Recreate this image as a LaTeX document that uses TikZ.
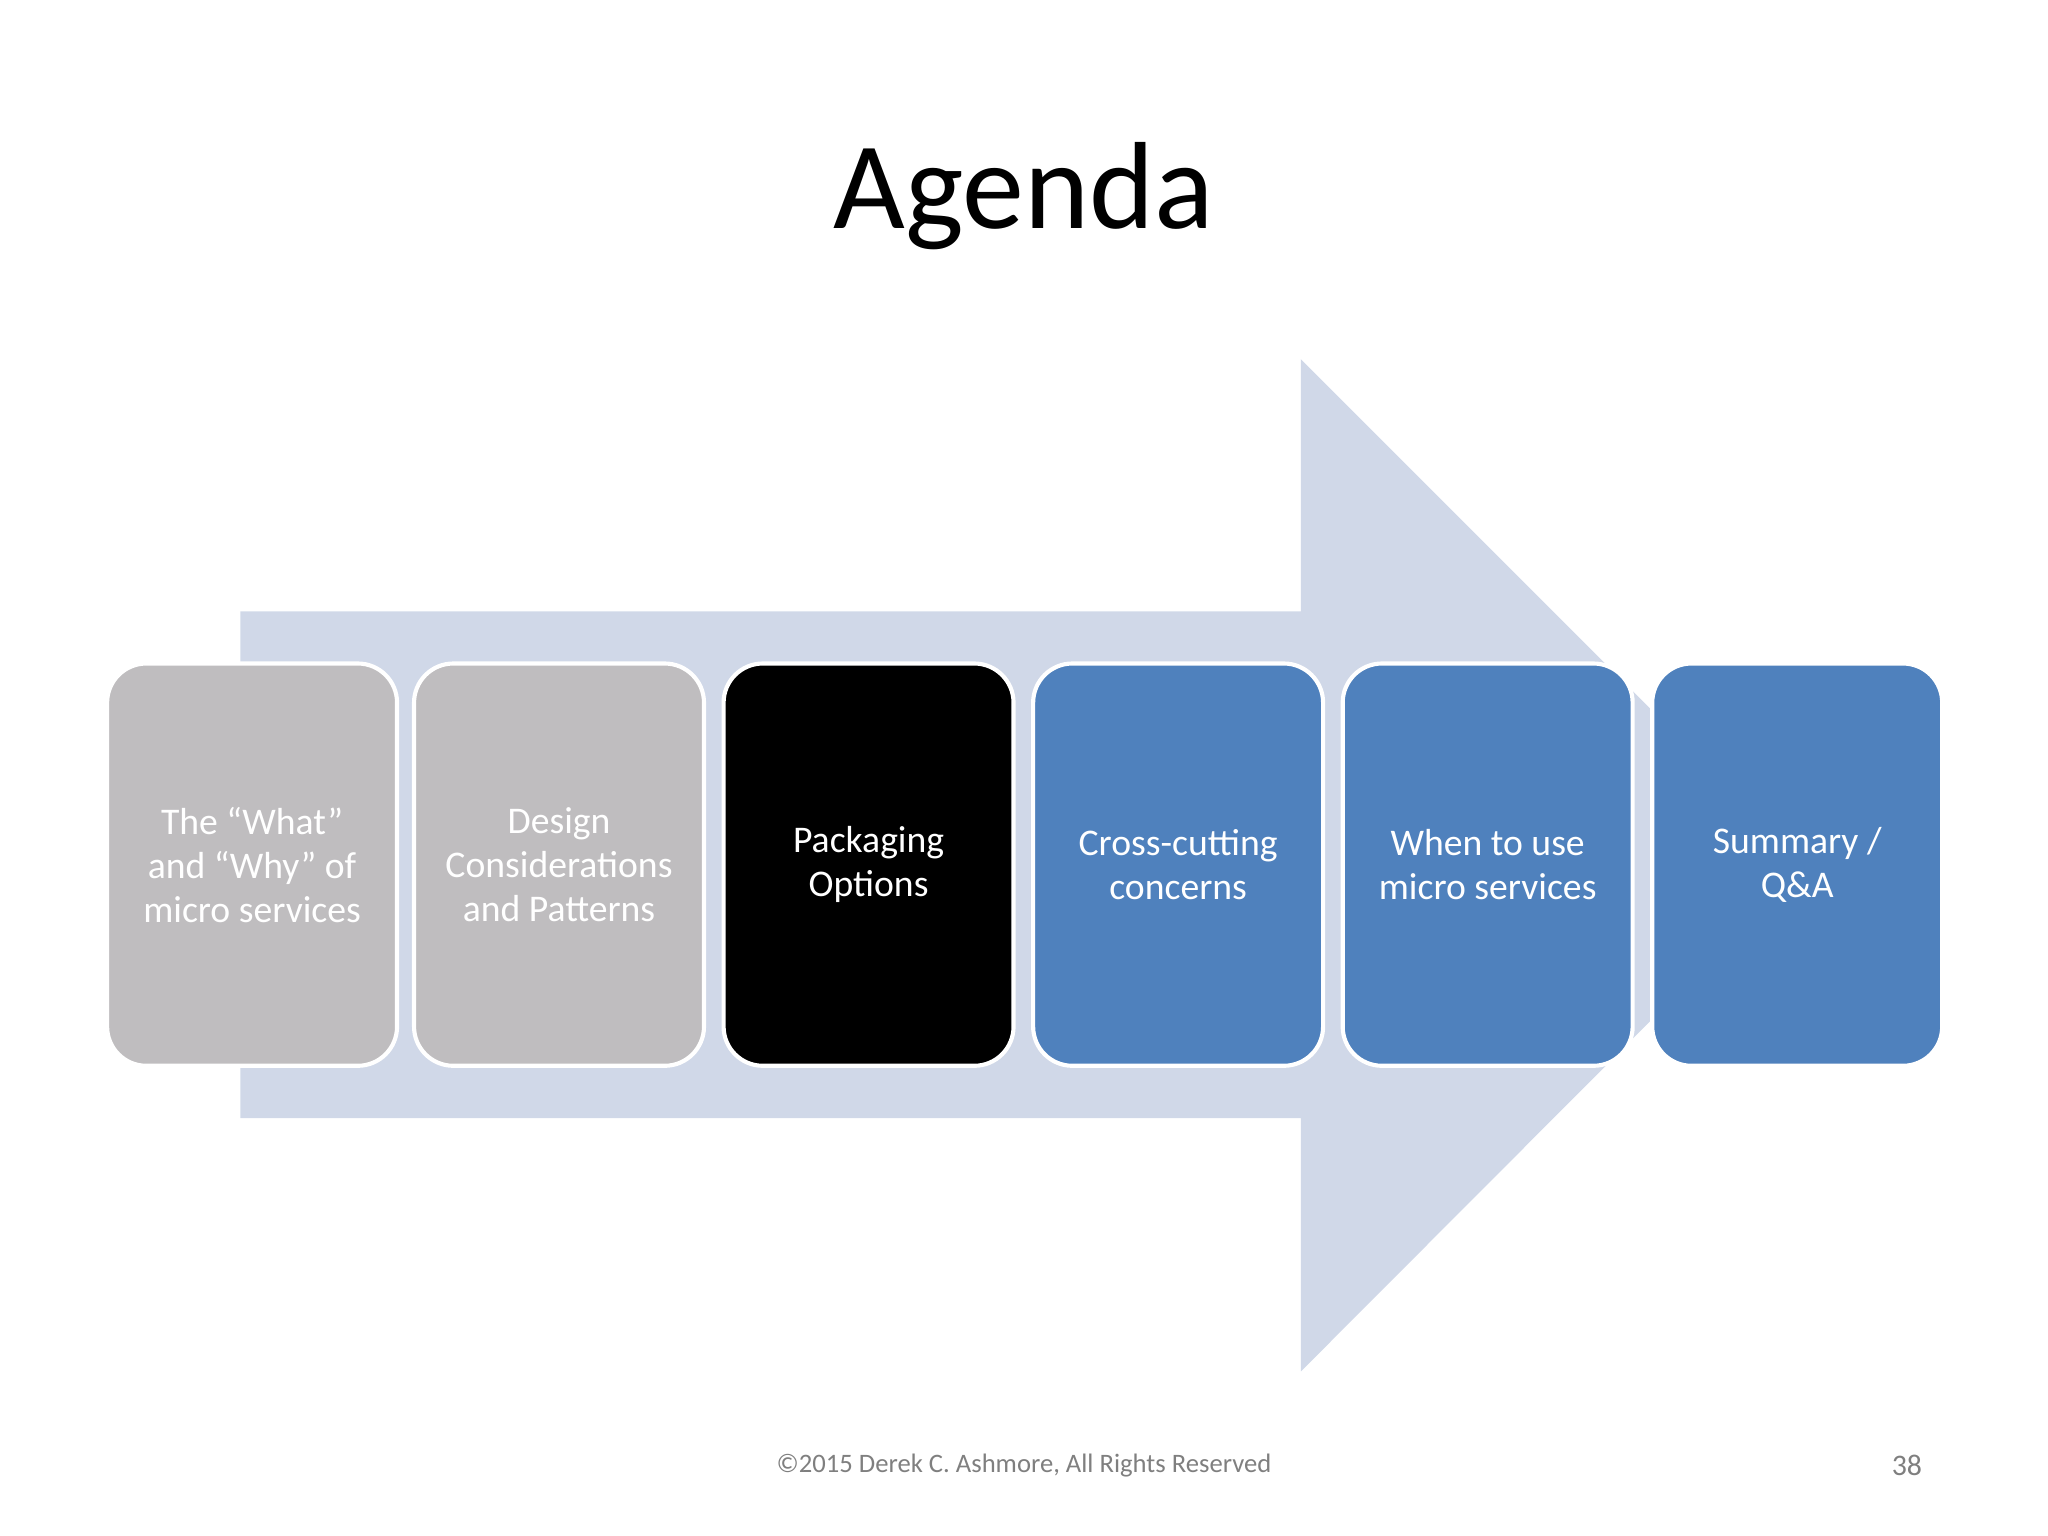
\documentclass[tikz,border=0pt]{standalone}
\usepackage{fontspec}
\setmainfont{Carlito}
\definecolor{arrowc}{HTML}{D0D8E8}
\definecolor{grayc}{HTML}{BFBDBF}
\definecolor{bluec}{HTML}{4F81BD}
\definecolor{footc}{HTML}{7F7F7F}
\begin{document}
\begin{tikzpicture}[x=0.01cm,y=-0.01cm,
  box/.style={draw=white,line width=0.9pt,rounded corners=0.3cm,text=white,align=center,font=\fontsize{8.2pt}{9.6pt}\selectfont}]
\useasboundingbox (0,0) rectangle (1568,1176);
\fill[arrowc] (184,468) -- (996,468) -- (996,275) -- (1383,662) -- (996,1050) -- (996,856) -- (184,856) -- cycle;
\node[font=\fontsize{27pt}{30pt}\selectfont] (title) at (784,150) {Agenda};
\foreach \n/\x/\c/\t in {a/82/grayc/{The “What”\\and “Why” of\\micro services},
  b/317/grayc/{Design\\Considerations\\and Patterns},
  c/554/black/{Packaging\\Options},
  d/791/bluec/{Cross-cutting\\concerns},
  e/1028/bluec/{When to use\\micro services},
  f/1265/bluec/{Summary /\\Q\&A}}{
  \filldraw[box,fill=\c] (\x,508) rectangle ++(222,308);
  \node[box,draw=none] (\n) at (\x+111,662) {\t};
}
\node[text=footc,font=\fontsize{5.8pt}{7pt}\selectfont] (foot) at (784,1122) {©2015 Derek C. Ashmore, All Rights Reserved};
\node[text=footc,font=\fontsize{6.5pt}{7pt}\selectfont] (num) at (1460,1122) {38};
\end{tikzpicture}
\end{document}
